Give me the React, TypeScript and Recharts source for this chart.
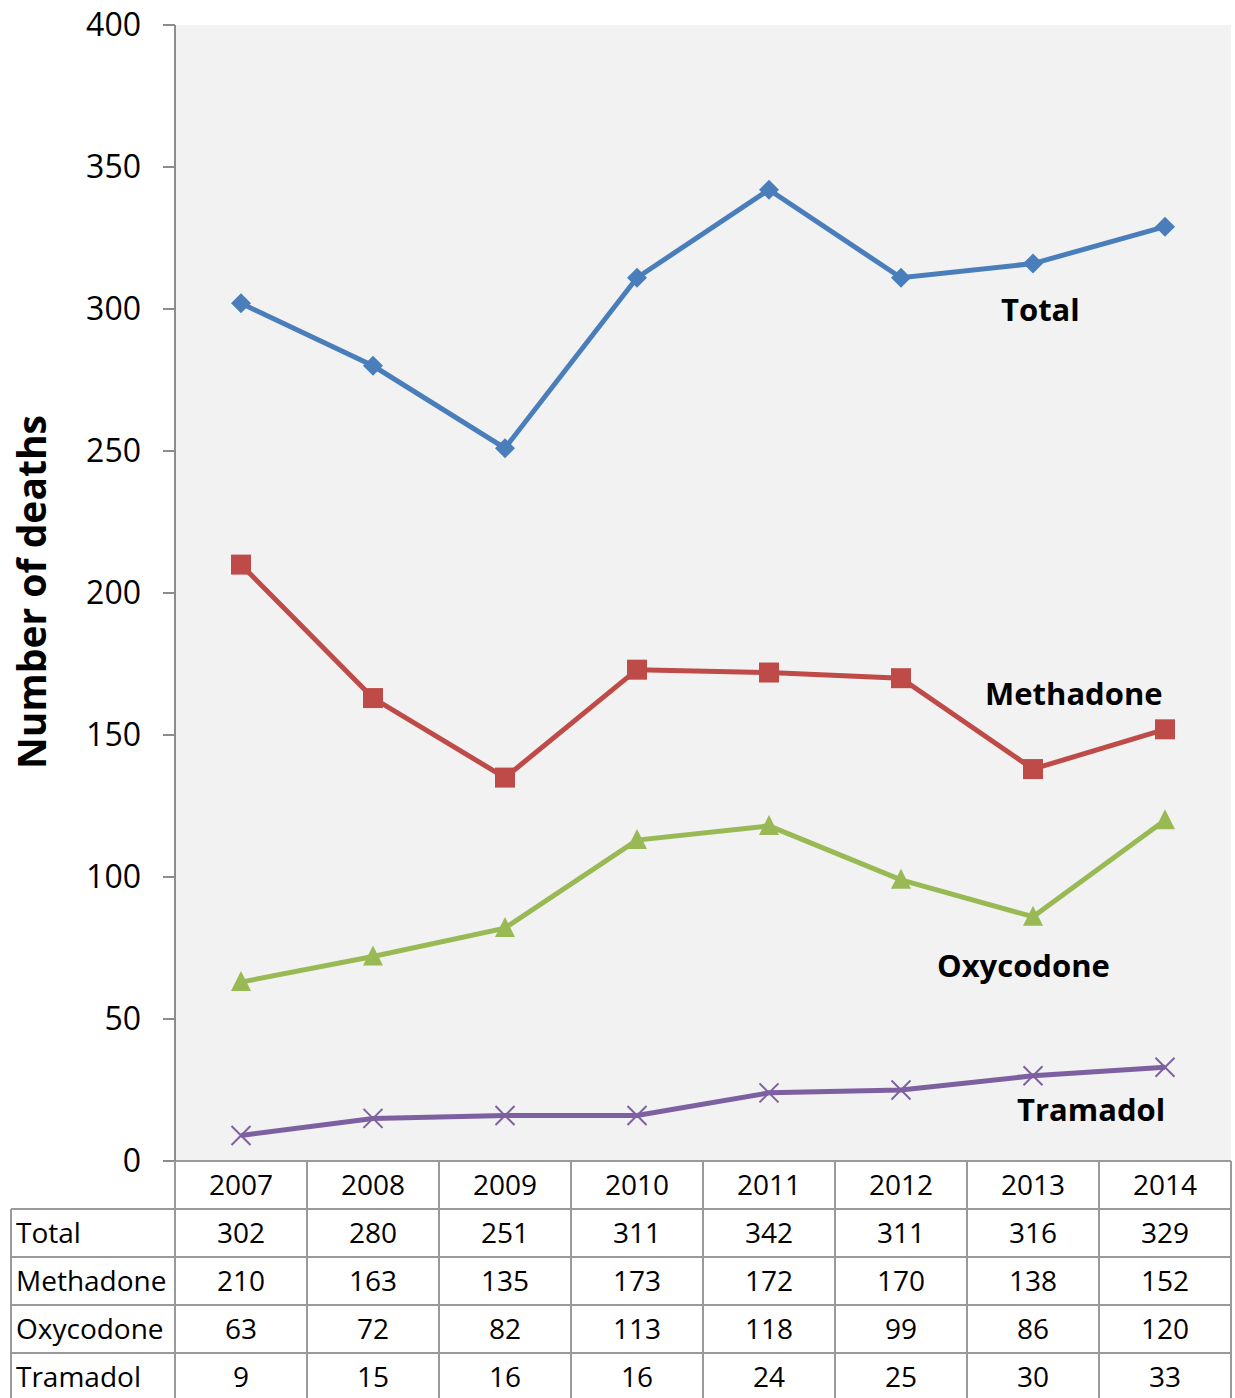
import React from 'react';
import { LineChart, Line, XAxis, YAxis, CartesianGrid } from 'recharts';

const years = ['2007', '2008', '2009', '2010', '2011', '2012', '2013', '2014'];
const total = [302, 280, 251, 311, 342, 311, 316, 329];
const methadone = [210, 163, 135, 173, 172, 170, 138, 152];
const oxycodone = [63, 72, 82, 113, 118, 99, 86, 120];
const tramadol = [9, 15, 16, 16, 24, 25, 30, 33];
const yTicks = [0, 50, 100, 150, 200, 250, 300, 350, 400];

const seriesNames = ['Total', 'Methadone', 'Oxycodone', 'Tramadol'];
const seriesValues = [total, methadone, oxycodone, tramadol];

const data = years.map((y, i) => ({
  year: y,
  Total: total[i],
  Methadone: methadone[i],
  Oxycodone: oxycodone[i],
  Tramadol: tramadol[i],
}));

const FONT = '"Open Sans", sans-serif';
const W = 1235;
const H = 1398;
const PLOT_LEFT = 175;
const PLOT_RIGHT = 1231;
const PLOT_BOTTOM = 1161;
const ROW_H = 48;
const GRID = '#9a9a9a';

const BLUE = '#4a7ebb';
const RED = '#be4b48';
const GREEN = '#98b954';
const PURPLE = '#7d60a0';

const Diamond = (p: any) => {
  const { cx, cy, index } = p;
  const s = 10;
  return <polygon key={`d${index}`} points={`${cx},${cy - s} ${cx + s},${cy} ${cx},${cy + s} ${cx - s},${cy}`} fill={BLUE} />;
};
const Square = (p: any) => {
  const { cx, cy, index } = p;
  const s = 10;
  return <rect key={`s${index}`} x={cx - s} y={cy - s} width={2 * s} height={2 * s} fill={RED} />;
};
const Triangle = (p: any) => {
  const { cx, cy, index } = p;
  const s = 10;
  return <polygon key={`t${index}`} points={`${cx},${cy - s - 1} ${cx + s},${cy + s * 0.9} ${cx - s},${cy + s * 0.9}`} fill={GREEN} />;
};
const Cross = (p: any) => {
  const { cx, cy, index } = p;
  const s = 9.5;
  return (
    <g key={`x${index}`} stroke={PURPLE} strokeWidth={2}>
      <line x1={cx - s} y1={cy - s} x2={cx + s} y2={cy + s} />
      <line x1={cx - s} y1={cy + s} x2={cx + s} y2={cy - s} />
    </g>
  );
};

const TableTick = (p: any) => {
  const { x, index, payload } = p;
  const half = (PLOT_RIGHT - PLOT_LEFT) / years.length / 2;
  return (
    <g key={`tick${index}`}>
      <line x1={x + half} y1={PLOT_BOTTOM} x2={x + half} y2={H} stroke={GRID} strokeWidth={2} />
      {index === 0 && <line x1={x - half} y1={PLOT_BOTTOM} x2={x - half} y2={H} stroke={GRID} strokeWidth={2} />}
      <text x={x} y={PLOT_BOTTOM + ROW_H / 2 + 10} textAnchor="middle" fontSize={28} fontFamily={FONT} fill="#000">
        {payload.value}
      </text>
      {seriesValues.map((vals, r) => (
        <text key={r} x={x} y={PLOT_BOTTOM + ROW_H * (r + 1) + ROW_H / 2 + 10} textAnchor="middle" fontSize={28} fontFamily={FONT} fill="#000">
          {vals[index]}
        </text>
      ))}
    </g>
  );
};

const YLabel = () => (
  <text x={30} y={592} transform="rotate(-90 30 592)" textAnchor="middle" dominantBaseline="central" fontSize={39} fontWeight="bold" fontFamily={FONT} fill="#000">
    Number of deaths
  </text>
);

export default function App() {
  return (
    <div style={{ position: 'absolute', left: 0, top: 0, width: W, height: H, background: '#fff' }}>
      <LineChart width={W} height={H} data={data} margin={{ top: 25, right: W - PLOT_RIGHT, left: 0, bottom: 0 }}>
        <CartesianGrid fill="#f2f2f2" horizontal={false} vertical={false} stroke="none" />
        <XAxis
          dataKey="year"
          height={H - PLOT_BOTTOM}
          padding={{ left: 66, right: 66 }}
          axisLine={{ stroke: GRID, strokeWidth: 2 }}
          tickLine={false}
          tick={<TableTick />}
          interval={0}
        />
        <YAxis
          width={PLOT_LEFT}
          domain={[0, 400]}
          ticks={yTicks}
          interval={0}
          tickSize={12}
          tickMargin={22}
          axisLine={{ stroke: '#8c8c8c', strokeWidth: 2 }}
          tickLine={{ stroke: '#8c8c8c', strokeWidth: 2 }}
          tick={{ fontSize: 32, fill: '#000', fontFamily: FONT }}
          label={<YLabel />}
        />
        <Line dataKey="Total" stroke={BLUE} strokeWidth={5} dot={Diamond} isAnimationActive={false} />
        <Line dataKey="Methadone" stroke={RED} strokeWidth={5} dot={Square} isAnimationActive={false} />
        <Line dataKey="Oxycodone" stroke={GREEN} strokeWidth={5} dot={Triangle} isAnimationActive={false} />
        <Line dataKey="Tramadol" stroke={PURPLE} strokeWidth={5} dot={Cross} isAnimationActive={false} />
      </LineChart>
      <svg width={W} height={H} style={{ position: 'absolute', left: 0, top: 0, pointerEvents: 'none' }}>
        <g fontFamily={FONT} fontSize={31} fontWeight="bold" fill="#000">
          <text x={1001} y={321}>{seriesNames[0]}</text>
          <text x={985} y={705}>{seriesNames[1]}</text>
          <text x={937} y={977}>{seriesNames[2]}</text>
          <text x={1017} y={1121}>{seriesNames[3]}</text>
        </g>
        <g stroke={GRID} strokeWidth={2}>
          <line x1={11} y1={PLOT_BOTTOM + ROW_H} x2={11} y2={H} />
          {seriesNames.map((_, r) => (
            <line key={r} x1={11} y1={PLOT_BOTTOM + ROW_H * (r + 1)} x2={PLOT_RIGHT} y2={PLOT_BOTTOM + ROW_H * (r + 1)} />
          ))}
        </g>
        <g fontFamily={FONT} fontSize={28} fill="#000">
          {seriesNames.map((n, r) => (
            <text key={n} x={16} y={PLOT_BOTTOM + ROW_H * (r + 1) + ROW_H / 2 + 10}>{n}</text>
          ))}
        </g>
      </svg>
    </div>
  );
}
